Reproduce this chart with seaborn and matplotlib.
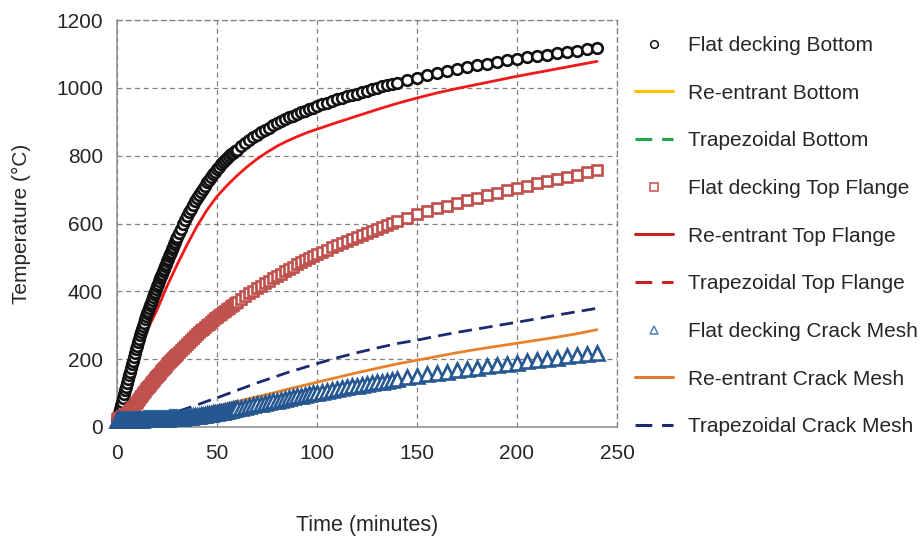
import matplotlib
matplotlib.use("Agg")
import matplotlib.pyplot as plt
from matplotlib.lines import Line2D
import pandas as pd
import seaborn as sns

# ---------------------------------------------------------------- data
# Measured series (markers) - time in minutes
t_marker = [0, 0.5, 1, 1.5, 2, 2.5, 3, 3.5, 4, 4.5, 5, 5.5, 6, 6.5, 7, 7.5, 8, 8.5, 9, 9.5,
            10, 10.5, 11, 11.5, 12, 12.5, 13, 13.5, 14, 14.5, 15, 15.5, 16, 16.5, 17, 17.5,
            18, 18.5, 19, 19.5, 20, 20.5, 21, 21.5, 22, 22.5, 23, 23.5, 24, 24.5, 25, 25.5,
            26, 26.5, 27, 27.5, 28, 28.5, 29, 29.5, 30,
            31, 32, 33, 34, 35, 36, 37, 38, 39, 40, 41, 42, 43, 44, 45, 46, 47, 48, 49, 50,
            51, 52, 53, 54, 55, 56, 57, 58, 59, 60,
            62, 64, 66, 68, 70, 72, 74, 76, 78, 80, 82, 84, 86, 88, 90, 92, 94, 96, 98, 100,
            102.5, 105, 107.5, 110, 112.5, 115, 117.5, 120, 122.5, 125, 127.5, 130,
            132.5, 135, 137.5, 140,
            145, 150, 155, 160, 165, 170, 175, 180, 185, 190, 195, 200, 205, 210, 215,
            220, 225, 230, 235, 240]

flat_bottom = [20, 31, 42, 53, 64, 75, 86, 97, 108, 119, 130, 141, 152, 163, 174, 185, 196, 207,
               218, 229, 240, 250, 260, 270, 279, 289, 298, 308, 317, 326, 335, 343, 351, 359,
               367, 375, 383, 391, 399, 407, 415, 423, 430, 438, 445, 452, 459, 467, 474, 481,
               488, 496, 503, 510, 517, 525, 532, 539, 546, 553, 560,
               573, 585, 598, 610, 622, 633, 644, 655, 665, 675, 685, 694, 703, 712, 721, 729,
               737, 745, 753, 760, 767, 774, 781, 787, 793, 799, 804, 809, 814, 818,
               828, 837, 846, 854, 862, 869, 876, 883, 890, 896, 902, 908, 913, 918, 923, 928,
               933, 937, 942, 946,
               951, 956, 961, 966, 970, 975, 979, 983, 987, 992, 996, 1000, 1004, 1008, 1011, 1015,
               1023, 1030, 1037, 1043, 1049, 1055, 1061, 1066, 1071, 1076, 1081, 1085, 1090,
               1094, 1098, 1102, 1106, 1110, 1114, 1118]

flat_top = [25, 26, 27, 28, 30, 31, 33, 34, 36, 38, 40, 43, 46, 49, 53, 56, 60, 63, 67, 71,
            75, 79, 83, 87, 91, 95, 99, 103, 107, 111, 115, 118, 122, 125, 129, 132, 136, 139,
            143, 146, 150, 153, 157, 160, 164, 167, 171, 174, 178, 181, 185, 188, 191, 194,
            197, 200, 203, 206, 209, 212, 215,
            221, 227, 233, 239, 245, 251, 257, 263, 269, 275, 280, 285, 290, 295, 300, 305,
            310, 315, 320, 325, 330, 334, 339, 343, 348, 352, 357, 361, 366, 370,
            378, 386, 394, 402, 410, 417, 424, 431, 438, 445, 452, 459, 466, 473, 480, 486,
            492, 498, 504, 510,
            517, 523, 530, 536, 542, 549, 555, 561, 567, 573, 578, 584, 590, 595, 601, 606,
            617, 627, 636, 645, 653, 661, 669, 676, 684, 691, 698, 705, 712, 718, 725, 731,
            738, 744, 751, 757]

flat_mesh = [20, 20, 20, 20, 20, 20, 20, 20, 21, 21, 21, 21, 21, 21, 21, 21,
             22, 22, 22, 22, 22, 22, 22, 22, 22, 22, 23, 23, 23, 23, 23, 23, 23, 23, 23, 23,
             24, 24, 24, 24, 24, 24, 24, 24, 25, 25, 25, 25, 25, 25, 25, 25,
             26, 26, 26, 26, 26, 26, 27, 27, 27,
             27, 28, 28, 29, 29, 30, 30, 31, 32, 33, 33, 34, 35, 36, 37, 38, 39, 40, 41, 42,
             43, 44, 45, 47, 48, 50, 51, 52, 54, 55,
             57, 60, 62, 65, 67, 69, 71, 74, 76, 78, 80, 83, 85, 88, 90, 92, 94, 97, 99, 101,
             104, 107, 109, 112, 115, 117, 120, 122, 125, 127, 130, 132, 134, 137, 139, 141,
             146, 150, 155, 159, 163, 167, 171, 175, 179, 183, 187, 190, 194, 197, 201, 204,
             208, 211, 214, 217]

# Model series (lines)
t_line = [0, 2.5, 5, 7.5, 10, 12.5, 15, 20, 25, 30, 35, 40, 45, 50, 55, 60,
          65, 70, 75, 80, 85, 90, 95, 100, 110, 120, 130, 140, 150, 160, 170, 180,
          190, 200, 210, 220, 230, 240]

reentrant_bottom = [20, 74, 128, 183, 238, 286, 333, 413, 486, 558, 620, 673, 718, 758, 790, 816,
                    840, 860, 878, 894, 908, 921, 933, 944, 964, 981, 998, 1013, 1028, 1041,
                    1053, 1064, 1074, 1083, 1092, 1100, 1108, 1116]
trap_bottom = [20, 80, 137, 193, 248, 297, 344, 424, 497, 569, 631, 684, 729, 769, 801, 827,
               850, 871, 889, 905, 919, 932, 944, 955, 975, 992, 1009, 1024, 1039, 1052,
               1064, 1075, 1085, 1094, 1103, 1111, 1119, 1127]
reentrant_top = [20, 70, 120, 167, 210, 250, 285, 345, 415, 478, 537, 592, 640, 680, 712, 741,
                 767, 790, 810, 828, 843, 856, 868, 878, 898, 917, 936, 954, 970, 985,
                 998, 1010, 1022, 1034, 1045, 1056, 1067, 1078]
trap_top = [20, 68, 122, 176, 230, 279, 326, 405, 478, 550, 612, 665, 710, 750, 783, 809,
            832, 853, 871, 887, 901, 914, 926, 937, 957, 974, 991, 1006, 1021, 1034,
            1046, 1057, 1067, 1076, 1085, 1093, 1101, 1109]
reentrant_mesh = [20, 20, 21, 21, 22, 23, 24, 27, 31, 36, 42, 48, 55, 62, 68, 75,
                  82, 89, 96, 103, 111, 118, 125, 132, 146, 160, 173, 186, 197, 208,
                  219, 229, 238, 247, 256, 265, 275, 287]
trap_mesh = [20, 20, 21, 21, 22, 24, 25, 28, 35, 45, 55, 65, 76, 86, 97, 108,
             119, 130, 140, 150, 160, 169, 178, 187, 204, 219, 233, 246, 256, 268,
             279, 289, 299, 309, 319, 330, 340, 350]

x_ticks = [0, 50, 100, 150, 200, 250]
y_ticks = [0, 200, 400, 600, 800, 1000, 1200]

labels = ["Flat decking Bottom", "Re-entrant Bottom", "Trapezoidal Bottom",
          "Flat decking Top Flange", "Re-entrant Top Flange", "Trapezoidal Top Flange",
          "Flat decking Crack Mesh", "Re-entrant Crack Mesh", "Trapezoidal Crack Mesh"]

# ---------------------------------------------------------------- style
sns.set_theme(style="white")
plt.rcParams["font.family"] = ["Liberation Sans", "DejaVu Sans"]
TXT = "#262626"
GRID = "#808080"

fig = plt.figure(figsize=(9.23, 5.41), dpi=100)
ax = fig.add_axes([117 / 923, 1 - 427 / 541, 500 / 923, 407 / 541])

markers_df = pd.DataFrame({"t": t_marker, "bottom": flat_bottom,
                           "top": flat_top, "mesh": flat_mesh})
lines_df = pd.DataFrame({"t": t_line, "rb": reentrant_bottom, "tb": trap_bottom,
                         "rt": reentrant_top, "tt": trap_top,
                         "rm": reentrant_mesh, "tm": trap_mesh})

dash = (0, (4.9, 2.6))
line_specs = [
    ("rb", "#FFC000", "-"),
    ("tb", "#22A84A", dash),
    ("rt", "#F01A1A", "-"),
    ("tt", "#D42028", dash),
    ("rm", "#E8822A", "-"),
    ("tm", "#1B2A6E", dash),
]
for col, color, ls in line_specs:
    sns.lineplot(data=lines_df, x="t", y=col, color=color, linestyle=ls,
                 linewidth=2.0, ax=ax, zorder=2)

marker_specs = [
    ("bottom", "o", "#111111", 7.6),
    ("top", "s", "#C0504D", 7.0),
    ("mesh", "^", "#255792", 9.8),
]
for col, mk, color, ms in marker_specs:
    sns.lineplot(data=markers_df, x="t", y=col, marker=mk, linestyle="",
                 color=color, markerfacecolor="white", markeredgecolor=color,
                 markersize=ms, markeredgewidth=1.9, ax=ax, zorder=3,
                 clip_on=False)

# ---------------------------------------------------------------- axes
ax.set_xlim(0, 250)
ax.set_ylim(0, 1200)
ax.set_xticks(x_ticks)
ax.set_yticks(y_ticks)
ax.grid(True, color=GRID, linestyle=(0, (4, 3)), linewidth=0.9)
ax.set_axisbelow(True)
for side in ("left", "bottom"):
    ax.spines[side].set_color("#8C8C8C")
    ax.spines[side].set_linewidth(1.1)
for side in ("top", "right"):
    ax.spines[side].set_color(GRID)
    ax.spines[side].set_linewidth(0.9)
    ax.spines[side].set_linestyle((0, (4, 3)))

ax.tick_params(axis="both", direction="out", length=3, width=0.9, color=GRID,
               labelsize=15, labelcolor=TXT)
ax.tick_params(axis="x", pad=9)
ax.tick_params(axis="y", pad=7)
ax.set_xlabel("Time (minutes)", fontsize=15.5, color=TXT, labelpad=38)
ax.set_ylabel("Temperature (°C)", fontsize=15, color=TXT, labelpad=18)

# ---------------------------------------------------------------- legend
handles = [
    Line2D([], [], marker="o", linestyle="", color="#111111", markerfacecolor="white",
           markersize=5.5, markeredgewidth=1.1),
    Line2D([], [], color="#FFC000", linewidth=2.2),
    Line2D([], [], color="#22A84A", linewidth=2.2, linestyle=(0, (5.5, 3.2))),
    Line2D([], [], marker="s", linestyle="", color="#C0504D", markerfacecolor="white",
           markersize=5.5, markeredgewidth=1.1),
    Line2D([], [], color="#C62127", linewidth=2.2),
    Line2D([], [], color="#C62127", linewidth=2.2, linestyle=(0, (5.5, 3.2))),
    Line2D([], [], marker="^", linestyle="", color="#4F7FB8", markerfacecolor="white",
           markersize=6, markeredgewidth=1.1),
    Line2D([], [], color="#E07B2F", linewidth=2.2),
    Line2D([], [], color="#1B2A6E", linewidth=2.2, linestyle=(0, (5.5, 3.2))),
]
leg = fig.legend(handles, labels, loc="upper left", bbox_to_anchor=(635 / 923, 1 - 36 / 541),
                 frameon=False, fontsize=15, labelspacing=1.376, handlelength=1.83,
                 handletextpad=0.72, borderpad=0, borderaxespad=0)
for txt in leg.get_texts():
    txt.set_color(TXT)

fig.savefig("out.png", dpi=100)
